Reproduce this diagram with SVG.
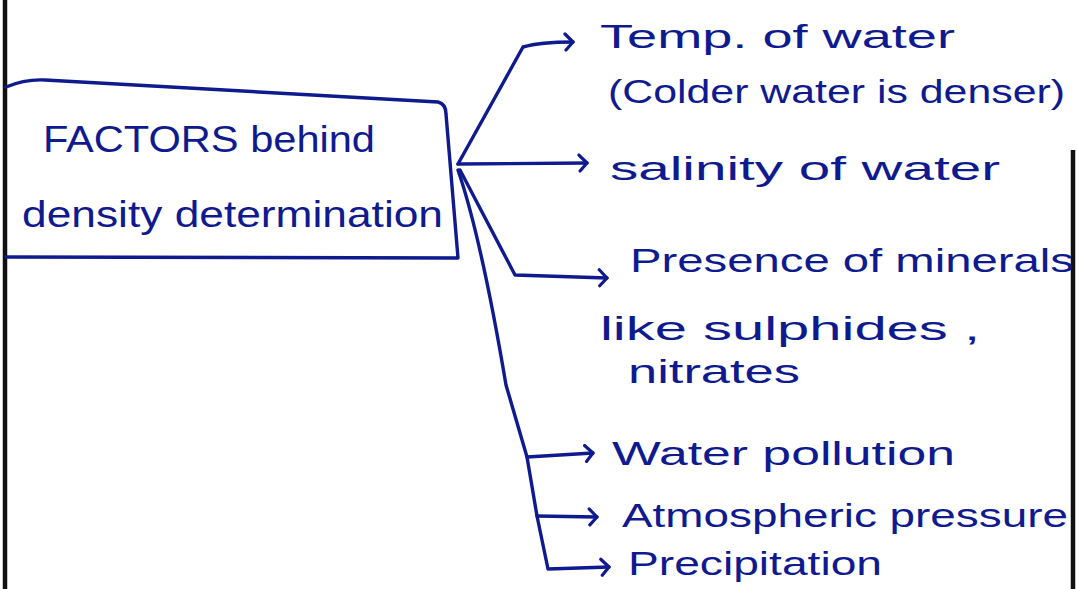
<svg xmlns="http://www.w3.org/2000/svg" width="1077" height="589" viewBox="0 0 1077 589">
<defs>
<style>
.ink{fill:none;stroke:#0f1a8f;stroke-width:3.4;stroke-linecap:round;stroke-linejoin:round}
.edge{fill:none;stroke:#111;stroke-width:4.5}
.t{font-family:"Liberation Sans",Arial,sans-serif;fill:#0f1a8f;font-size:34px}
.h{font-family:"Liberation Sans",Arial,sans-serif;fill:#0f1a8f;font-size:37px}
</style>
<marker id="chev" viewBox="0 0 12 20" refX="10" refY="10" markerWidth="12" markerHeight="20" markerUnits="userSpaceOnUse" orient="auto">
<path d="M2 2 L10 10 L3 18" fill="none" stroke="#0f1a8f" stroke-width="3.2" stroke-linecap="round" stroke-linejoin="round"/>
</marker>
</defs>
<rect width="1077" height="589" fill="#fff"/>
<path class="edge" d="M5 0 L5 589"/>
<path class="edge" d="M1073 150 L1073 589" stroke-width="3.5"/>
<g id="main">
<path class="ink" d="M6 87 Q25 79 45 80 L438 102 Q446 104 446 114 L458 258 L6 257"/>
<text class="h" x="43" y="152" textLength="332" lengthAdjust="spacingAndGlyphs">FACTORS behind</text>
<text class="h" x="22" y="227" textLength="421" lengthAdjust="spacingAndGlyphs">density determination</text>
</g>
<g id="connectors">
<path class="ink" d="M458 164 L523 47 Q540 42 573 42" marker-end="url(#chev)"/>
<path class="ink" d="M458 164 L587 163" marker-end="url(#chev)"/>
<path class="ink" d="M460 170 L515 275 L607 278" marker-end="url(#chev)"/>
<path class="ink" d="M458 170 C475 220 490 290 506 385 L527 457 L537 516 L548 569 L609 567" marker-end="url(#chev)"/>
<path class="ink" d="M527 457 L593 453" marker-end="url(#chev)"/>
<path class="ink" d="M537 516 L597 517" marker-end="url(#chev)"/>
</g>
<g id="n-temp">
<text class="t" x="600" y="48" textLength="355" lengthAdjust="spacingAndGlyphs">Temp. of water</text>
<text class="t" x="608" y="103" textLength="457" lengthAdjust="spacingAndGlyphs">(Colder water is denser)</text>
</g>
<g id="n-salinity">
<text class="t" x="610" y="180" textLength="390" lengthAdjust="spacingAndGlyphs">salinity of water</text>
</g>
<g id="n-minerals">
<text class="t" x="630" y="272" textLength="444" lengthAdjust="spacingAndGlyphs">Presence of minerals</text>
<text class="t" x="600" y="340" textLength="380" lengthAdjust="spacingAndGlyphs">like sulphides ,</text>
<text class="t" x="628" y="383" textLength="172" lengthAdjust="spacingAndGlyphs">nitrates</text>
</g>
<g id="n-pollution">
<text class="t" x="612" y="465" textLength="343" lengthAdjust="spacingAndGlyphs">Water pollution</text>
</g>
<g id="n-pressure">
<text class="t" x="622" y="527" textLength="446" lengthAdjust="spacingAndGlyphs">Atmospheric pressure</text>
</g>
<g id="n-precip">
<text class="t" x="628" y="575" textLength="254" lengthAdjust="spacingAndGlyphs">Precipitation</text>
</g>
</svg>
